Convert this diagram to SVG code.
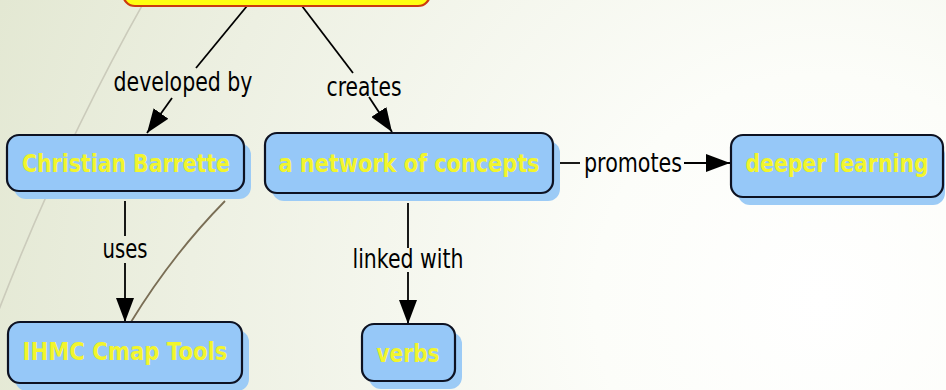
<svg xmlns="http://www.w3.org/2000/svg" width="946" height="390" viewBox="0 0 946 390">
  <defs>
    <radialGradient id="bg" cx="820" cy="300" r="900" gradientUnits="userSpaceOnUse">
      <stop offset="0" stop-color="#ffffff"/>
      <stop offset="0.25" stop-color="#fcfdf9"/>
      <stop offset="0.7" stop-color="#edf0e2"/>
      <stop offset="1" stop-color="#e2e7d1"/>
    </radialGradient>
    <marker id="arrow" markerWidth="24" markerHeight="18" refX="24" refY="9" viewBox="0 0 24 18" markerUnits="userSpaceOnUse" orient="auto">
      <path d="M0,0 L24,9 L0,18 Z" fill="#000"/>
    </marker>
    <style>
      .shadow { fill: #9ccbf6; }
      .node { fill: #96c8f8; stroke: #0d1222; stroke-width: 2.2; }
      .ntext { font-family: "DejaVu Sans", Verdana, sans-serif; font-weight: bold; font-size: 25px; fill: #f2f52c; text-anchor: middle; }
      .cond { font-family: "DejaVu Sans Condensed", "DejaVu Sans", sans-serif; font-size: 24px; }
      .ltext { font-family: "DejaVu Sans", Verdana, sans-serif; font-size: 26px; fill: #000; text-anchor: middle; }
      .conn { stroke: #000; stroke-width: 1.8; fill: none; }
    </style>
  </defs>
  <rect x="0" y="0" width="946" height="390" fill="url(#bg)"/>
  <path d="M148,-5 Q60,150 -5,320" fill="none" stroke="#cbcbbb" stroke-width="1.6"/>
  <path d="M225,201 Q172,255 131,322" fill="none" stroke="#7a6e55" stroke-width="1.8"/>

  <g id="connectors">
    <line class="conn" x1="247" y1="6" x2="196" y2="68"/>
    <line class="conn" x1="172" y1="98" x2="147" y2="133" marker-end="url(#arrow)"/>
    <line class="conn" x1="302" y1="6" x2="353" y2="73"/>
    <line class="conn" x1="369" y1="97" x2="392" y2="132" marker-end="url(#arrow)"/>
    <line class="conn" x1="125" y1="201" x2="125" y2="236"/>
    <line class="conn" x1="125" y1="263" x2="125" y2="322" marker-end="url(#arrow)"/>
    <line class="conn" x1="408" y1="203" x2="408" y2="248"/>
    <line class="conn" x1="408" y1="272" x2="408" y2="324" marker-end="url(#arrow)"/>
    <line class="conn" x1="560" y1="163" x2="580" y2="163"/>
    <line class="conn" x1="684" y1="163" x2="730" y2="163" marker-end="url(#arrow)"/>
    <text class="ltext" x="183" y="91" textLength="139" lengthAdjust="spacingAndGlyphs">developed by</text>
    <text class="ltext" x="364" y="96" textLength="75" lengthAdjust="spacingAndGlyphs">creates</text>
    <text class="ltext" x="125" y="258" textLength="45" lengthAdjust="spacingAndGlyphs">uses</text>
    <text class="ltext" x="408" y="268" textLength="111" lengthAdjust="spacingAndGlyphs">linked with</text>
    <text class="ltext" x="633" y="172" textLength="98" lengthAdjust="spacingAndGlyphs">promotes</text>
  </g>

  <g id="top-node">
    <rect x="123" y="-40" width="307" height="46" rx="12" fill="#ffff10" stroke="#cc3a10" stroke-width="2.2"/>
  </g>

  <g id="christian-barrette">
    <rect class="shadow" x="14" y="143" width="237" height="56" rx="12"/>
    <rect class="node" x="7" y="135" width="237" height="56" rx="12"/>
    <text class="ntext" x="126" y="172" textLength="208" lengthAdjust="spacingAndGlyphs">Christian Barrette</text>
  </g>

  <g id="network-of-concepts">
    <rect class="shadow" x="272" y="141" width="288" height="60" rx="12"/>
    <rect class="node" x="265" y="133" width="288" height="60" rx="12"/>
    <text class="ntext" x="409" y="172" textLength="261" lengthAdjust="spacingAndGlyphs">a network of concepts</text>
  </g>

  <g id="deeper-learning">
    <rect class="shadow" x="738" y="143" width="207" height="62" rx="12"/>
    <rect class="node" x="731" y="135" width="212" height="62" rx="12"/>
    <text class="ntext cond" x="837" y="172" textLength="183" lengthAdjust="spacingAndGlyphs">deeper learning</text>
  </g>

  <g id="ihmc-cmap-tools">
    <rect class="shadow" x="15" y="330" width="234" height="61" rx="12"/>
    <rect class="node" x="8" y="322" width="234" height="61" rx="12"/>
    <text class="ntext" x="125" y="360" textLength="205" lengthAdjust="spacingAndGlyphs">IHMC Cmap Tools</text>
  </g>

  <g id="verbs">
    <rect class="shadow" x="369" y="332" width="93" height="57" rx="12"/>
    <rect class="node" x="362" y="324" width="93" height="57" rx="12"/>
    <text class="ntext" x="408" y="362" textLength="63" lengthAdjust="spacingAndGlyphs">verbs</text>
  </g>
</svg>
